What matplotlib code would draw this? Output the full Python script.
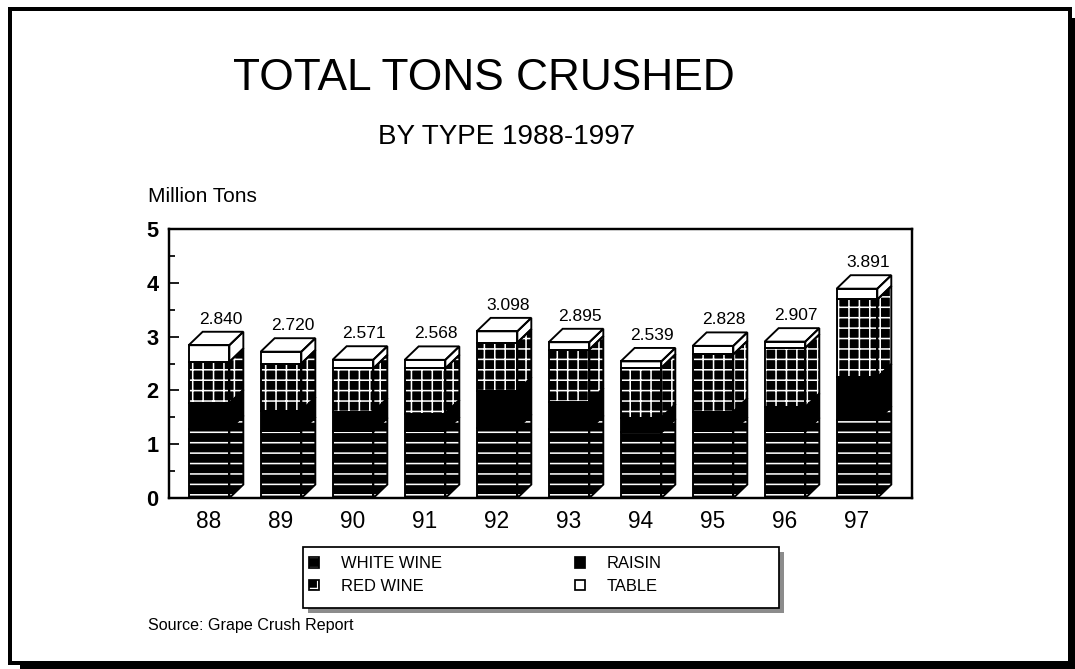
#!/usr/bin/env python3

import matplotlib
matplotlib.use("Agg")
import matplotlib.pyplot as plt
from matplotlib.patches import Patch, Polygon, Rectangle

years = ["88", "89", "90", "91", "92", "93", "94", "95", "96", "97"]
white_wine = [1.28, 1.25, 1.24, 1.25, 1.30, 1.28, 1.22, 1.25, 1.24, 1.45]
raisin = [0.48, 0.37, 0.36, 0.32, 0.69, 0.51, 0.27, 0.35, 0.45, 0.79]
red_wine = [0.77, 0.88, 0.81, 0.84, 0.90, 0.97, 0.93, 1.07, 1.10, 1.45]
table = [0.31, 0.22, 0.161, 0.158, 0.208, 0.135, 0.119, 0.158, 0.117, 0.201]
totals = [2.840, 2.720, 2.571, 2.568, 3.098, 2.895, 2.539, 2.828, 2.907, 3.891]

plt.rcParams.update({
    "font.family": ["Liberation Sans", "DejaVu Sans"],
    "hatch.linewidth": 0.9,
})

W, H = 1075, 669   # output size in pixels, used to place things on the page
BAR_W = 0.565
DX = 0.194  # depth of the 3d bars, x data units
DY = 0.25   # depth of the 3d bars, y data units

# (name, values, face, hatch)
series = [
    ("WHITE WINE", white_wine, "black", "--"),
    ("RAISIN", raisin, "black", None),
    ("RED WINE", red_wine, "black", "++"),
    ("TABLE", table, "white", None),
]


def px_box(x0, y0, x1, y1):
    """pixel box (top-left origin) -> figure fraction (x, y, w, h)"""
    return x0 / W, 1 - y1 / H, (x1 - x0) / W, (y1 - y0) / H


fig = plt.figure(figsize=(W / 125, H / 125), dpi=125)

# page frame with a drop shadow
x, y, w, h = px_box(20, 18, W + 5, H + 5)
fig.add_artist(Rectangle((x, y), w, h, transform=fig.transFigure,
                         facecolor="black", edgecolor="none", zorder=-20))
x, y, w, h = px_box(10, 9, 1070, 663)
fig.add_artist(Rectangle((x, y), w, h, transform=fig.transFigure,
                         facecolor="white", edgecolor="black", linewidth=2.3, zorder=-19))

# legend box with grey shadow
x, y, w, h = px_box(308, 552, 784, 613)
fig.add_artist(Rectangle((x, y), w, h, transform=fig.transFigure,
                         facecolor="0.55", edgecolor="none", zorder=-5))
x, y, w, h = px_box(303, 547, 779, 608)
fig.add_artist(Rectangle((x, y), w, h, transform=fig.transFigure,
                         facecolor="white", edgecolor="black", linewidth=1.0, zorder=-4))

ax = fig.add_axes(px_box(169, 229, 912, 498))
ax.set_xlim(-0.556, 9.764)
ax.set_ylim(0, 5)


def face(ax, pts, fc, hatch):
    # black faces get white hatch lines, outline drawn on top in black
    if hatch:
        ax.add_patch(Polygon(pts, closed=True, facecolor=fc, edgecolor="white",
                             hatch=hatch, linewidth=0, zorder=2))
    else:
        ax.add_patch(Polygon(pts, closed=True, facecolor=fc, edgecolor="none",
                             zorder=2))
    ax.add_patch(Polygon(pts, closed=True, fill=False, edgecolor="black",
                         linewidth=1.1, zorder=3))


for i in range(len(years)):
    bottom = 0.0
    l = i - BAR_W / 2
    r = i + BAR_W / 2
    for k, (name, vals, fc, hatch) in enumerate(series):
        top = bottom + vals[i]
        face(ax, [(l, bottom), (r, bottom), (r, top), (l, top)], fc, hatch)
        face(ax, [(r, bottom), (r + DX, bottom + DY), (r + DX, top + DY), (r, top)], fc, hatch)
        if k == len(series) - 1:
            face(ax, [(l, top), (l + DX, top + DY), (r + DX, top + DY), (r, top)], "white", None)
        bottom = top
    ax.annotate(f"{totals[i]:.3f}", xy=(i + DX / 2 + 0.06, bottom + DY),
                xytext=(0, 3), textcoords="offset points",
                ha="center", va="bottom", fontsize=10)

ax.set_xticks(range(len(years)))
ax.set_xticklabels(years)
ax.set_yticks([0, 1, 2, 3, 4, 5])
ax.set_yticks([0.5, 1.5, 2.5, 3.5, 4.5], minor=True)
ax.tick_params(axis="x", length=0, pad=7, labelsize=13)
ax.tick_params(axis="y", which="major", direction="in", length=5.8, width=1,
               pad=6, labelsize=12.5)
ax.tick_params(axis="y", which="minor", direction="in", length=3.5, width=1)
for lab in ax.get_yticklabels():
    lab.set_fontweight("bold")
for sp in ax.spines.values():
    sp.set_linewidth(1.4)

fig.text(484 / W, 1 - 78 / H, "TOTAL TONS CRUSHED", ha="center", va="center",
         fontsize=25.5)
fig.text(507 / W, 1 - 137 / H, "BY TYPE 1988-1997", ha="center", va="center",
         fontsize=16)
fig.text(148 / W, 1 - 202 / H, "Million Tons", ha="left", va="baseline",
         fontsize=12)
fig.text(148 / W, 1 - 630 / H, "Source: Grape Crush Report", ha="left",
         va="baseline", fontsize=9.3)

handles = []
for name, vals, fc, hatch in series:
    if hatch:
        handles.append((Patch(facecolor=fc, edgecolor="white", hatch=hatch, linewidth=0),
                        Patch(fill=False, edgecolor="black", linewidth=1)))
    else:
        handles.append(Patch(facecolor=fc, edgecolor="black", linewidth=1))
order = [0, 2, 1, 3]
leg = fig.legend([handles[j] for j in order], [series[j][0] for j in order],
                 loc="upper left", bbox_to_anchor=(306 / W, 1 - 553 / H),
                 ncol=2, fontsize=9.5, frameon=False, borderaxespad=0,
                 handlelength=0.6, handleheight=0.6, handletextpad=1.3,
                 borderpad=0.2, labelspacing=0.45, columnspacing=8.1)

fig.savefig("out.png", dpi=125)
